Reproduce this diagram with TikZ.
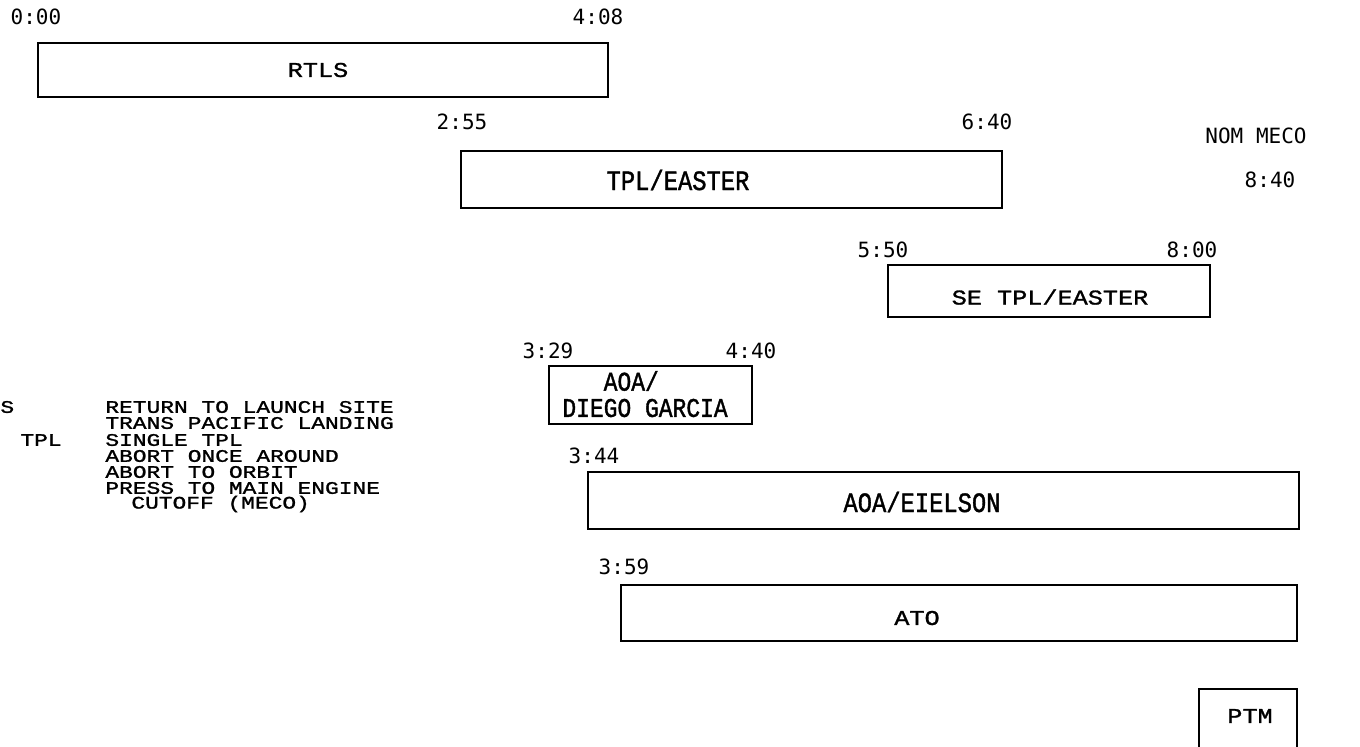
\documentclass[tikz,border=0pt]{standalone}
\usepackage{fontspec}
\usetikzlibrary{positioning, fit}
\newfontfamily\typefont[FakeStretch=1.3, FakeBold=1.3]{Liberation Mono}
\newfontfamily\labelfont[FakeStretch=1.2, FakeBold=1.3]{Liberation Mono}
\newfontfamily\narrowfont[FakeStretch=0.85, FakeBold=1.3]{Liberation Mono}
\newfontfamily\stampfont{DejaVu Sans Mono}

\begin{document}
\begin{tikzpicture}[
        x=0.5pt, y=-0.5pt,
        spanbox/.style={draw=black, line width=1.3pt, inner sep=0pt},
        widetext/.style={font=\labelfont\fontsize{10.5}{8}\selectfont, inner sep=0pt},
        narrowtext/.style={font=\narrowfont\fontsize{14}{10.5}\selectfont, inner sep=0pt},
        stamp/.style={font=\stampfont\fontsize{10.5}{12}\selectfont, inner sep=0pt},
        legend/.style={font=\typefont\fontsize{8.8}{8}\selectfont, inner sep=0pt, anchor=west}
    ]
    \clip (0,0) rectangle (1360,746);

    \node[spanbox, fit={(38,43) (608,97)}] (rtls) {};
    \node[widetext] (rtlstxt) at (318,70) {RTLS};
    \node[stamp] (rtlsin) at (36,17) {0:00};
    \node[stamp] (rtlsout) at (598,17) {4:08};

    \node[spanbox, fit={(461,151) (1002,208)}] (tpl) {};
    \node[narrowtext] (tpltxt) at (678,180) {TPL/EASTER};
    \node[stamp] (tplin) at (462,122) {2:55};
    \node[stamp] (tplout) at (987,122) {6:40};

    \node[stamp] (meco) at (1256,136) {NOM MECO};
    \node[stamp] (mecot) at (1270,180) {8:40};

    \node[spanbox, fit={(888,265) (1210,317)}] (setpl) {};
    \node[widetext] (setpltxt) at (1050,297) {SE TPL/EASTER};
    \node[stamp] (setplin) at (883,250) {5:50};
    \node[stamp] (setplout) at (1192,250) {8:00};

    \node[spanbox, fit={(549,366) (752,424)}] (aoadg) {};
    \node[narrowtext, font=\narrowfont\fontsize{13.5}{10}\selectfont, anchor=west] (aoadgtop) at (562,381) {\phantom{DIE}AOA/};
    \node[narrowtext, font=\narrowfont\fontsize{13.5}{10}\selectfont, anchor=west] (aoadgbot) at (562,408) {DIEGO GARCIA};
    \node[stamp] (aoadgin) at (548,351) {3:29};
    \node[stamp] (aoadgout) at (751,351) {4:40};

    \node[spanbox, fit={(588,472) (1299,529)}] (aoae) {};
    \node[narrowtext] (aoaetxt) at (922,502) {AOA/EIELSON};
    \node[stamp] (aoaein) at (594,456) {3:44};

    \node[spanbox, fit={(621,585) (1297,641)}] (ato) {};
    \node[widetext] (atotxt) at (917,618) {ATO};
    \node[stamp] (atoin) at (624,567) {3:59};

    \node[spanbox, fit={(1199,689) (1297,760)}] (ptm) {};
    \node[widetext] (ptmtxt) at (1250,716) {PTM};

    \node[legend] (abbrs) at (0,407) {S};
    \node[legend] (abbrse) at (20,440) {TPL};
    \node[legend] (keyrtls) at (105,407) {RETURN TO LAUNCH SITE};
    \node[legend] (keytpl) at (105,423) {TRANS PACIFIC LANDING};
    \node[legend] (keyse) at (105,440) {SINGLE TPL};
    \node[legend] (keyaoa) at (105,456) {ABORT ONCE AROUND};
    \node[legend] (keyato) at (105,472) {ABORT TO ORBIT};
    \node[legend] (keyptm) at (105,488) {PRESS TO MAIN ENGINE};
    \node[legend] (keyptmb) at (131,504) {CUTOFF (MECO)};
\end{tikzpicture}
\end{document}
